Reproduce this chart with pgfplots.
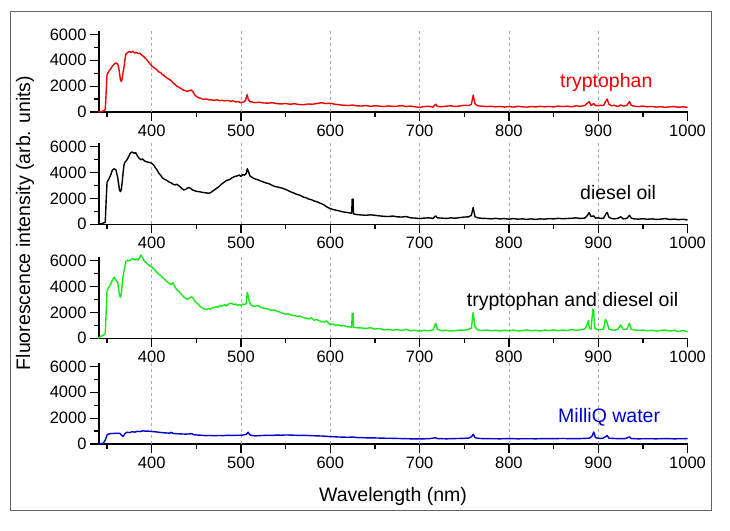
\documentclass[border=0pt]{standalone}
\usepackage{pgfplots}
\pgfplotsset{compat=1.18}
\usepackage{fontspec}
\setmainfont{Liberation Sans}
\definecolor{cred}{RGB}{240,0,0}
\definecolor{cgreen}{RGB}{20,235,20}
\definecolor{cblue}{RGB}{0,0,210}
\definecolor{cframe}{RGB}{100,100,100}
\definecolor{cgrid}{RGB}{170,170,170}
\pgfplotsset{
  panel/.style={
    scale only axis, width=588.5pt, height=81.4pt,
    xmin=341, xmax=1000, ymin=0, ymax=6300,
    axis x line*=bottom, axis y line*=left,
    axis line style={line width=1.3pt, -},
    xtick={400,500,...,1000}, minor xtick={350,450,...,950},
    ytick={0,2000,4000,6000}, minor ytick={1000,3000,5000},
    tick align=outside, major tick length=9pt, minor tick length=5pt,
    every tick/.style={line width=1.3pt, black},
    extra x ticks={400,500,...,900}, extra x tick labels={},
    extra x tick style={grid=major, major tick length=0pt},
    major grid style={dashed, cgrid, line width=0.6pt},
    ticklabel style={font=\fontsize{16.5}{19}\selectfont},
    /pgf/number format/assume math mode=true,
    /pgf/number format/1000 sep={},
    scaled ticks=false,
    clip=false,
  },
  spec/.style={line width=1.4pt, mark=none, line join=round},
}
\pgfplotstableread{
x y
340 0
343 20
346 90
348 200
349 1500
350 2900
352 3150
354 3330
356 3550
358 3710
360 3790
362 3700
363 3450
364 3000
365 2500
366 2360
367 2600
368 3100
369 3450
370 4000
371 4470
373 4600
375 4680
377 4620
379 4700
381 4560
383 4620
385 4520
387 4540
389 4400
391 4300
393 4160
395 4000
397 3820
400 3580
402 3450
404 3380
406 3250
408 3100
410 3050
412 2900
414 2820
416 2700
418 2580
420 2520
422 2400
424 2250
426 2150
428 2000
430 1930
432 1850
434 1760
436 1680
438 1640
440 1600
442 1650
444 1700
446 1580
448 1350
450 1200
452 1120
455 1050
458 980
461 1010
464 950
467 930
470 900
473 950
476 880
479 900
482 860
485 900
488 830
491 860
494 780
497 800
500 720
503 780
505 900
507 1350
508 1000
510 800
513 760
516 720
520 760
525 700
530 680
535 720
540 650
545 620
550 660
555 600
560 640
565 580
570 560
575 620
580 600
585 660
590 720
595 650
600 680
605 600
610 560
615 520
620 500
625 540
630 480
635 460
640 500
645 440
650 480
655 450
660 420
665 470
670 430
675 450
680 490
685 420
690 460
695 400
700 350
705 420
710 440
715 380
718 600
720 430
725 410
730 450
735 480
740 430
745 460
750 520
755 500
758 600
760 1300
762 640
765 480
770 450
775 420
780 440
785 400
790 430
795 380
800 420
805 380
810 440
815 400
820 380
825 420
830 390
835 440
840 400
845 430
850 390
855 460
860 420
865 450
870 400
875 480
880 440
885 500
888 700
890 800
892 500
895 650
897 500
900 480
903 520
906 500
909 900
910 1000
912 600
915 480
918 520
922 420
925 550
928 460
932 500
935 800
937 520
940 450
945 420
950 460
955 400
960 430
965 380
970 410
975 360
980 400
985 420
990 370
995 400
1000 360
}\trp
\pgfplotstableread{
x y
340 0
343 30
346 100
348 150
349 1800
350 3250
352 3500
354 3800
356 4200
358 4300
360 4200
362 3600
363 3100
364 2650
365 2530
366 2700
367 3300
368 4000
369 4600
370 4800
372 4950
374 5200
376 5500
378 5600
380 5500
382 5550
384 5300
386 5100
388 5000
390 5050
392 4900
394 4850
396 4800
398 4780
400 4720
402 4600
404 4400
406 4200
408 3950
410 3800
412 3600
414 3500
416 3430
418 3350
420 3250
422 3200
424 3100
426 3050
428 3100
430 3000
432 2900
434 2750
436 2660
438 2700
440 2800
442 2850
444 2750
446 2650
448 2600
450 2550
453 2530
456 2480
459 2450
462 2420
464 2400
466 2450
468 2550
470 2650
472 2750
475 2900
478 3100
481 3250
484 3400
487 3450
490 3600
493 3700
496 3750
498 3820
500 3700
502 3850
504 3800
506 3950
507 4300
508 4150
510 3750
513 3600
516 3500
519 3450
522 3350
525 3280
528 3200
531 3150
534 3050
537 2950
540 2900
543 2850
546 2800
550 2700
553 2600
556 2500
560 2400
563 2300
566 2250
570 2100
573 2050
576 1950
579 1900
582 1800
585 1750
588 1650
590 1600
593 1500
596 1350
600 1210
603 1150
606 1100
609 1050
612 1000
615 950
618 920
620 900
622 880
624 850
624.5 1950
625.5 1950
626 800
630 750
635 720
640 700
645 730
650 700
655 650
660 620
665 600
670 640
675 580
680 560
685 600
690 500
695 480
700 440
705 480
710 500
715 460
718 650
720 500
725 480
730 450
735 500
740 470
745 520
750 560
755 580
758 700
760 1300
762 600
765 500
770 460
775 450
780 420
785 460
790 420
795 440
800 400
805 440
810 400
815 420
820 380
825 420
830 380
835 420
840 400
845 440
850 420
855 460
860 430
865 450
870 460
875 500
880 450
885 480
888 700
890 900
892 600
895 650
897 480
900 500
903 450
906 470
909 850
910 930
912 550
915 450
918 420
922 460
925 580
928 420
932 450
935 700
937 480
940 420
945 400
950 430
955 390
960 420
965 380
970 400
975 440
980 380
985 400
990 360
995 390
1000 335
}\dsl
\pgfplotstableread{
x y
340 0
343 150
346 250
348 350
349 2000
350 3680
352 3950
354 4200
356 4500
358 4730
360 4500
362 4340
363 3800
364 3300
365 3160
366 3500
367 4200
368 4860
370 5500
371 5920
373 6050
375 6000
377 6100
379 6180
381 6050
383 6150
385 6050
387 6300
388 6440
390 6200
392 5950
394 5850
396 5700
398 5600
400 5520
402 5400
404 5250
406 5100
408 4950
410 4860
412 4700
414 4600
416 4450
418 4340
420 4250
422 4150
424 4300
426 4000
428 3750
430 3680
432 3500
434 3350
436 3200
438 3100
440 3020
442 3100
444 3200
446 3150
448 2900
450 2760
452 2650
454 2500
456 2370
458 2300
460 2250
462 2240
464 2300
466 2250
468 2350
470 2370
472 2450
474 2380
476 2550
478 2480
480 2550
482 2600
484 2500
486 2650
488 2710
490 2700
492 2600
494 2650
496 2550
498 2600
500 2550
502 2650
504 2600
506 2700
507 3550
508 3300
509 2900
511 2600
513 2500
516 2470
519 2550
522 2400
525 2340
528 2300
531 2250
534 2150
537 2200
540 2100
543 2050
546 1950
550 1870
553 1900
556 1800
560 1750
563 1700
566 1720
570 1600
573 1550
576 1500
579 1580
582 1400
585 1450
588 1350
590 1300
593 1250
596 1350
598 1150
600 1080
603 1100
606 1000
609 1050
612 950
615 1000
618 900
620 880
622 900
624 850
624.5 1900
625.5 1950
626 850
630 815
635 800
640 760
645 820
650 710
655 760
660 650
665 700
670 620
675 680
680 600
685 700
690 580
695 620
700 550
705 620
710 580
715 650
718 1150
720 700
725 580
730 620
735 560
740 600
745 640
750 620
755 700
758 800
760 2000
762 900
765 650
770 600
775 640
780 580
785 620
790 560
795 620
800 580
805 640
810 560
815 600
820 650
825 580
830 620
835 560
840 640
845 600
850 660
855 580
860 640
865 600
870 680
875 620
880 660
885 720
888 1100
889 1370
890 800
892 700
894 2260
895 2000
896 800
898 700
900 650
903 680
906 700
908 1470
910 1200
912 700
915 650
918 620
922 700
925 1030
928 680
932 700
935 1160
937 700
940 650
945 600
950 640
955 580
960 620
965 560
970 600
975 640
980 560
985 620
990 520
995 600
1000 500
}\mix
\pgfplotstableread{
x y
340 0
343 20
346 80
348 300
350 700
352 780
355 810
358 820
361 830
364 835
366 700
368 575
370 800
372 910
375 880
378 950
381 920
384 980
387 960
390 1020
393 990
396 1000
400 965
403 950
406 930
409 900
412 880
415 860
418 850
420 835
422 900
424 820
427 800
430 790
434 780
438 760
442 780
445 800
447 720
450 700
455 680
460 650
465 660
470 640
475 660
480 650
485 670
490 660
495 680
500 680
503 700
506 750
508 910
510 700
513 650
516 625
520 650
525 660
530 680
535 670
540 690
545 680
550 700
555 690
560 680
565 660
570 670
575 660
580 640
585 630
590 620
595 600
600 565
605 560
610 540
615 530
620 520
625 540
630 500
640 480
650 470
660 450
670 440
680 420
690 400
700 390
710 410
718 480
720 420
730 400
740 420
750 440
755 460
758 550
760 750
762 500
765 440
770 420
780 410
790 400
800 420
810 400
820 410
830 400
840 420
850 410
860 430
870 410
880 420
890 450
893 600
895 930
897 500
900 440
905 430
910 650
912 450
920 420
930 410
935 550
937 420
945 400
955 410
965 400
975 420
985 400
995 410
1000 413
}\wat
\begin{document}
\begin{tikzpicture}
\path[use as bounding box] (0pt,0pt) rectangle (730pt,530pt);
\draw[cframe, line width=0.8pt] (10pt,20pt) rectangle (711pt,519pt);
\begin{axis}[panel, at={(99pt,418pt)}, anchor=south west]
\addplot[spec, cred] table {\trp};
\end{axis}
\begin{axis}[panel, at={(99pt,305.7pt)}, anchor=south west]
\addplot[spec, black] table {\dsl};
\end{axis}
\begin{axis}[panel, at={(99pt,191.7pt)}, anchor=south west]
\addplot[spec, cgreen] table {\mix};
\end{axis}
\begin{axis}[panel, at={(99pt,86pt)}, anchor=south west]
\addplot[spec, cblue] table {\wat};
\end{axis}
\begin{scope}[every node/.style={inner sep=0pt, font=\fontsize{19.5}{23}\selectfont}]
\node[anchor=base west, text=cred] at (560pt,442.5pt) {tryptophan};
\node[anchor=base west] at (580pt,330.7pt) {diesel oil};
\node[anchor=base west] at (466.7pt,223.3pt) {tryptophan and diesel oil};
\node[anchor=base west, text=cblue] at (558pt,107.7pt) {MilliQ water};
\node[anchor=base] at (393pt,28.3pt) {Wavelength (nm)};
\node[anchor=base, rotate=90] at (30pt,307pt) {Fluorescence intensity (arb. units)};
\end{scope}
\end{tikzpicture}
\end{document}
